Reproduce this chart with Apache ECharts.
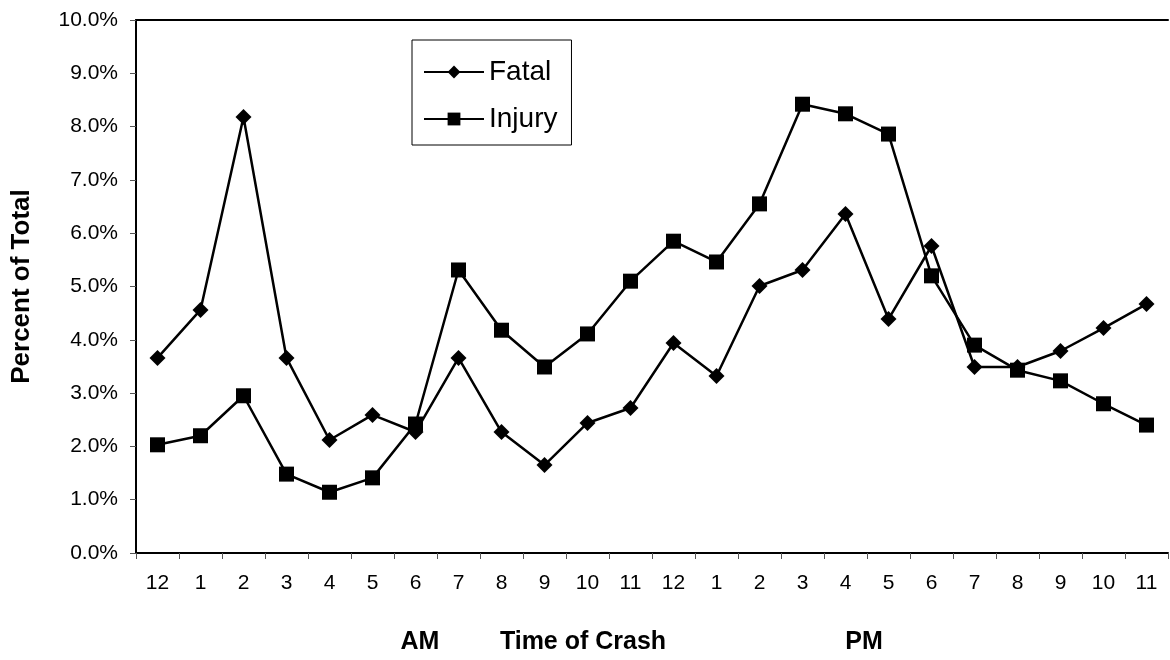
<!DOCTYPE html>
<html>
<head>
<meta charset="utf-8">
<script src="https://cdn.jsdelivr.net/npm/echarts@6/dist/echarts.min.js"></script>
<style>
  html, body { margin: 0; padding: 0; background: #fff; }
  #chart { width: 1170px; height: 660px; }
</style>
</head>
<body>
<div id="chart"></div>
<script>
var hours = ['12','1','2','3','4','5','6','7','8','9','10','11',
             '12','1','2','3','4','5','6','7','8','9','10','11'];
var fatal = [3.66,4.56,8.18,3.66,2.12,2.59,2.27,3.66,2.27,1.65,2.44,2.72,
             3.94,3.32,5.01,5.31,6.36,4.39,5.76,3.49,3.49,3.79,4.22,4.67];
var injury = [2.03,2.2,2.95,1.48,1.14,1.41,2.42,5.31,4.18,3.49,4.11,5.1,
              5.85,5.46,6.55,8.42,8.24,7.86,5.2,3.9,3.43,3.23,2.8,2.4];

var fnt = 'Liberation Sans, Arial, sans-serif';
var myChart = echarts.init(document.getElementById('chart'));

myChart.setOption({
  animation: false,
  backgroundColor: '#fff',
  grid: { left: 136, right: 2, top: 20, bottom: 107, containLabel: false },
  legend: {
    left: 412, top: 40, orient: 'vertical',
    borderColor: '#000', borderWidth: 1,
    padding: [18, 14, 12, 11],
    itemWidth: 60, itemHeight: 16, itemGap: 19,
    textStyle: { fontFamily: fnt, fontSize: 28, color: '#000' },
    data: ['Fatal', 'Injury']
  },
  xAxis: [{
    type: 'category', data: hours,
    axisLine: { lineStyle: { color: '#000', width: 2 } },
    axisTick: { show: true, length: 6, lineStyle: { color: '#555' } },
    axisLabel: { color: '#000', fontFamily: fnt, fontSize: 21, margin: 20 }
  }, {
    type: 'category', position: 'top', data: hours,
    axisLine: { lineStyle: { color: '#000', width: 2 } },
    axisTick: { show: false }, axisLabel: { show: false }
  }],
  yAxis: {
    type: 'value', min: 0, max: 10, interval: 1,
    axisLine: { show: true, lineStyle: { color: '#000', width: 2 } },
    axisTick: { show: true, length: 6, lineStyle: { color: '#555' } },
    splitLine: { show: false },
    axisLabel: { color: '#000', fontFamily: fnt, fontSize: 21, margin: 18,
      formatter: function (v) { return v.toFixed(1) + '%'; } },
    name: 'Percent of Total', nameLocation: 'middle', nameGap: 101,
    nameTextStyle: { fontFamily: fnt, fontSize: 26, fontWeight: 'bold', color: '#000' }
  },
  graphic: [
    { type: 'text', x: 420, y: 642,
      style: { text: 'AM', fontFamily: fnt, fontSize: 25, fontWeight: 'bold', fill: '#000',
        align: 'center', verticalAlign: 'middle' } },
    { type: 'text', x: 583, y: 642,
      style: { text: 'Time of Crash', fontFamily: fnt, fontSize: 25, fontWeight: 'bold', fill: '#000',
        align: 'center', verticalAlign: 'middle' } },
    { type: 'text', x: 864, y: 642,
      style: { text: 'PM', fontFamily: fnt, fontSize: 25, fontWeight: 'bold', fill: '#000',
        align: 'center', verticalAlign: 'middle' } }
  ],
  series: [{
    name: 'Fatal', type: 'line', data: fatal,
    symbol: 'diamond', symbolSize: 16,
    lineStyle: { color: '#000', width: 2.5 },
    itemStyle: { color: '#000' }
  }, {
    name: 'Injury', type: 'line', data: injury,
    symbol: 'rect', symbolSize: 15,
    lineStyle: { color: '#000', width: 2.5 },
    itemStyle: { color: '#000' }
  }]
});
</script>
</body>
</html>
